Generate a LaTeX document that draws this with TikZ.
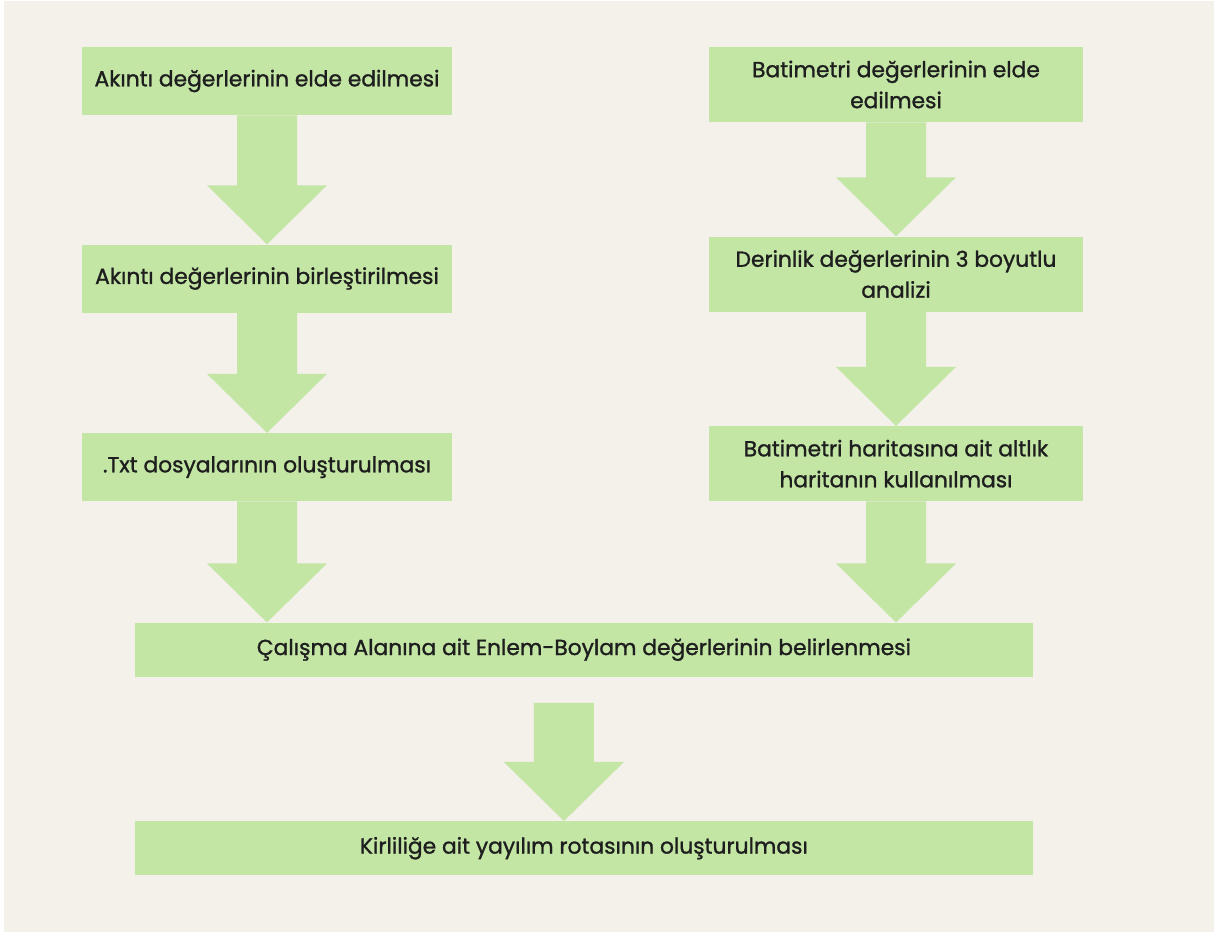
\documentclass[tikz,border=0pt]{standalone}
\usepackage{fontspec}
\setmainfont{Poppins}[BoldFont=Poppins,BoldFeatures={FakeBold=1.2}]
\usepackage{tikz}
\usetikzlibrary{positioning,calc}
\definecolor{paper}{HTML}{F4F0EA}
\definecolor{leaf}{HTML}{C3E6A5}
\definecolor{ink}{HTML}{1E1E1E}

\begin{document}
\begin{tikzpicture}[
  stepbox/.style={fill=leaf,minimum width=9.25cm,minimum height=1.7cm,align=center,inner sep=0pt,font=\fontsize{15.5}{22}\selectfont\bfseries,text=ink},
  tallbox/.style={stepbox,minimum width=9.35cm,minimum height=1.875cm},
  widebox/.style={stepbox,minimum width=22.45cm,minimum height=1.35cm},
  bigarrow/.style={fill=leaf,to path={let \p1=(\tikztostart),\p2=(\tikztotarget) in
    (\x1-0.75cm,\y1) -- (\x1-0.75cm,\y2+1.475cm) -- (\x1-1.5cm,\y2+1.475cm) -- (\x1,\y2)
    -- (\x1+1.5cm,\y2+1.475cm) -- (\x1+0.75cm,\y2+1.475cm) -- (\x1+0.75cm,\y1) -- cycle}}
]
% page and background
\useasboundingbox (0,0) rectangle (30.35,-23.35);
\fill[paper] (0.1,-0.025) rectangle (30.35,-23.3);

% left column: current data
\node[stepbox] (akinti) at (6.675,-2.025) {Akıntı değerlerinin elde edilmesi};
\node[stepbox,below=3.225cm of akinti] (birlestir) {Akıntı değerlerinin birleştirilmesi};
\node[stepbox,below=3cm of birlestir] (txt) {.Txt dosyalarının oluşturulması};

% right column: bathymetry
\node[tallbox] (batimetri) at (22.4,-2.1125) {Batimetri değerlerinin elde\\edilmesi};
\node[tallbox,below=2.85cm of batimetri] (derinlik) {Derinlik değerlerinin 3 boyutlu\\analizi};
\node[tallbox,below=2.85cm of derinlik] (altlik) {Batimetri haritasına ait altlık\\haritanın kullanılması};

% joined steps
\coordinate (mid) at ($(txt.south)!0.5!(altlik.south)+(0.06,0)$);
\node[widebox,below=3.025cm of mid] (enlem) {Çalışma Alanına ait Enlem-Boylam değerlerinin belirlenmesi};
\node[widebox,below=3.6cm of enlem] (rota) {Kirliliğe ait yayılım rotasının oluşturulması};

\path[bigarrow] (akinti.south) to (birlestir.north);
\path[bigarrow] (birlestir.south) to (txt.north);
\path[bigarrow] (txt.south) to (txt.south |- enlem.north);
\path[bigarrow] (batimetri.south) to (derinlik.north);
\path[bigarrow] (derinlik.south) to (altlik.north);
\path[bigarrow] (altlik.south) to (altlik.south |- enlem.north);
\path[bigarrow] ([xshift=-0.5cm,yshift=-0.65cm]enlem.south) to ([xshift=-0.5cm]rota.north);
\end{tikzpicture}
\end{document}
